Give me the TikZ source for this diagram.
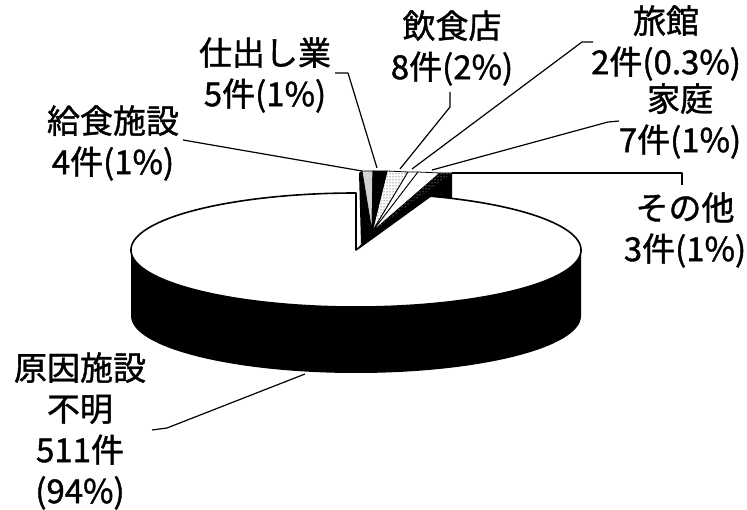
\documentclass[tikz,border=0pt]{standalone}
\usepackage{fontspec}
\setmainfont[FakeBold=1.2]{Noto Sans CJK JP}
\usetikzlibrary{patterns}
\begin{document}
\begin{tikzpicture}[x=1pt,y=-1pt,
  lbl/.style={align=center,font=\fontsize{33}{41}\selectfont,inner sep=0pt},
  lead/.style={line width=1.2pt,line join=round},
  edge/.style={line width=1.6pt,line join=round},
  slice/.style={draw=black,line width=0.8pt,line join=round}]
\useasboundingbox (0,0) rectangle (747,510);
% centres
\coordinate (C) at (356,250);
\coordinate (A) at (372,232);
% fan top points of the exploded small slices
\coordinate (t0) at (362,171);
\coordinate (t1) at (373,171);
\coordinate (t2) at (387,171);
\coordinate (t3) at (408,172);
\coordinate (t4) at (418,172);
\coordinate (t5) at (440,173);
\coordinate (t6) at (452,173);
\coordinate (rimR) at (452,199);
% dark side faces of the exploded slices
\fill[black] (A) -- (t6) -- (rimR) -- (C) -- cycle;
\fill[black] (359,173) -- (t0) -- (A) -- (366,240) -- (361,244) -- cycle;
% exploded slices
\draw[slice,fill=gray!35] (A) -- (t0) -- (t1) -- cycle;
\draw[slice,fill=black] (A) -- (t1) -- (t2) -- cycle;
\draw[slice,pattern=dots] (A) -- (t2) -- (t3) -- cycle;
\draw[slice,fill=white] (A) -- (t3) -- (t4) -- cycle;
\draw[slice,fill=white] (A) -- (t4) -- (t5) -- cycle;
\draw[slice,fill=black] (A) -- (t5) -- (t6) -- cycle;
\fill[pattern=dots,pattern color=white] (A) -- (t5) -- (t6) -- cycle;
% big slice: side face
\fill[black] (C) ++(180:225 and 57) arc[start angle=180,end angle=0,x radius=225,y radius=57]
  -- ++(0,66) arc[start angle=0,end angle=180,x radius=225,y radius=57] -- cycle;
% big slice: top face
\draw[edge,fill=white] (C) -- ++(-70.7:225 and 57)
  arc[start angle=-70.7,end angle=270,x radius=225,y radius=57] -- cycle;
% leader line points
\coordinate (k1) at (183,140);
\coordinate (s1) at (335,73); \coordinate (s2) at (348,73); \coordinate (s3) at (377,168);
\coordinate (i1) at (450,92); \coordinate (i2) at (450,107); \coordinate (i3) at (400,169);
\coordinate (r1) at (593,42); \coordinate (r2) at (582,42); \coordinate (r3) at (412,169);
\coordinate (h1) at (619,121); \coordinate (h2) at (608,122); \coordinate (h3) at (432,170);
\coordinate (o1) at (682,173); \coordinate (o2) at (682,185);
\coordinate (g1) at (152,430); \coordinate (g2) at (167,428); \coordinate (g3) at (305,374);
\draw[lead] (k1) -- (t0);
\draw[lead] (s1) -- (s2) -- (s3);
\draw[lead] (i1) -- (i2) -- (i3);
\draw[lead] (r1) -- (r2) -- (r3);
\draw[lead] (h1) -- (h2) -- (h3);
\draw[lead] (t6) -- (o1) -- (o2);
\draw[lead] (g1) -- (g2) -- (g3);
% labels
\node[lbl] (Lkyu) at (113,143) {給食施設\\4件(1\%)};
\node[lbl] (Lshi) at (265,75) {仕出し業\\5件(1\%)};
\node[lbl] (Linsh) at (452,48) {飲食店\\8件(2\%)};
\node[lbl] (Lryo) at (666,43) {旅館\\2件(0.3\%)};
\node[lbl] (Lkat) at (680,121) {家庭\\7件(1\%)};
\node[lbl] (Lsono) at (685,230) {その他\\3件(1\%)};
\node[lbl] (Lgen) at (80,431) {原因施設\\不明\\511件\\(94\%)};
\end{tikzpicture}
\end{document}
